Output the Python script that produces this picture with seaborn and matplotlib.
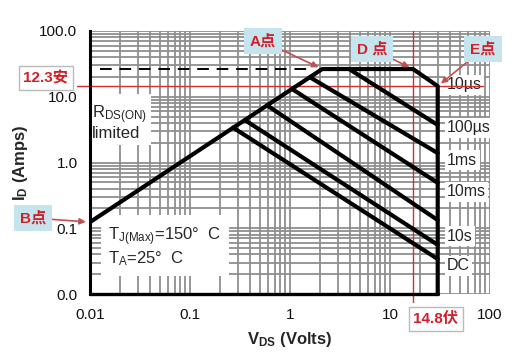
import matplotlib
matplotlib.use("Agg")
import matplotlib.pyplot as plt
import seaborn as sns
import pandas as pd
from matplotlib.ticker import FixedLocator, FixedFormatter, LogLocator, NullFormatter

# SOA boundary: RDS(on) line -> flat top (A..D) -> power limit (D..E) -> Vmax
env_v = [0.01, 2.1, 17, 30, 30]
env_i = [0.124, 26.4, 26.4, 14.5, 0.01]

# pulse-width lines (start on the boundary, end on Vmax)
pulse_names = ["100µs", "1ms", "10ms", "100ms", "10s", "DC"]
pulse_v0 = [3.9, 1.58, 1.05, 0.59, 0.355, 0.269]
pulse_i0 = [26.4, 19.8, 13.1, 7.4, 4.4, 3.4]
pulse_v1 = [30, 30, 30, 30, 30, 30]
pulse_i1 = [3.72, 1.39, 0.49, 0.133, 0.056, 0.034]

label_names = ["10µs", "100µs", "1ms", "10ms", "10s", "DC"]
label_i = [15.1, 3.35, 1.09, 0.356, 0.076, 0.0267]

x_ticks = [0.01, 0.1, 1, 10, 100]
x_labels = ["0.01", "0.1", "1", "10", "100"]
y_ticks = [0.01, 0.1, 1, 10, 100]
y_labels = ["0.0", "0.1", "1.0", "10.0", "100.0"]

d_volt = 17
e_amp = 14.5

rows = []
for k, (v, i) in enumerate(zip(env_v, env_i)):
    rows.append({"vds": v, "id": i, "curve": "10µs", "k": k})
for n, a, b, c, d in zip(pulse_names, pulse_v0, pulse_i0, pulse_v1, pulse_i1):
    rows.append({"vds": a, "id": b, "curve": n, "k": 0})
    rows.append({"vds": c, "id": d, "curve": n, "k": 1})
df = pd.DataFrame(rows)

sns.set_theme(style="white")
plt.rcParams["font.family"] = ["Liberation Sans", "Noto Sans CJK SC", "DejaVu Sans"]
plt.rcParams["mathtext.fontset"] = "custom"
plt.rcParams["mathtext.rm"] = "Liberation Sans"
plt.rcParams["mathtext.it"] = "Liberation Sans:italic"
plt.rcParams["mathtext.bf"] = "Liberation Sans:bold"

fig = plt.figure(figsize=(5.3, 3.55), dpi=100)
ax = fig.add_axes([90 / 530, 61 / 355, 400 / 530, 263 / 355])
ax.set_xscale("log")
ax.set_yscale("log")
ax.set_xlim(0.01, 100)
ax.set_ylim(0.01, 100)

# grid
ax.xaxis.set_minor_locator(LogLocator(base=10, subs=range(2, 10)))
ax.yaxis.set_minor_locator(LogLocator(base=10, subs=range(2, 10)))
ax.xaxis.set_minor_formatter(NullFormatter())
ax.yaxis.set_minor_formatter(NullFormatter())
ax.grid(True, which="both", color="#8f8f8f", lw=1.3)
ax.set_axisbelow(True)

sns.lineplot(data=df, x="vds", y="id", units="curve", estimator=None, sort=False,
             color="black", lw=3, ax=ax, zorder=5, legend=False)

ax.xaxis.set_major_locator(FixedLocator(x_ticks))
ax.xaxis.set_major_formatter(FixedFormatter(x_labels))
ax.yaxis.set_major_locator(FixedLocator(y_ticks))
ax.yaxis.set_major_formatter(FixedFormatter(y_labels))
ax.tick_params(which="both", length=0)
ax.tick_params(axis="x", pad=10, labelsize=11, labelcolor="#111111")
ax.tick_params(axis="y", pad=9, labelsize=11, labelcolor="#111111")

for s in ["top", "right", "bottom"]:
    ax.spines[s].set_visible(False)
ax.spines["left"].set_color("black")
ax.spines["left"].set_linewidth(2.2)
ax.spines["left"].set_zorder(6)
ax.plot([0.01, env_v[-1]], [0.01, 0.01], color="black", lw=2.4, clip_on=False, zorder=6)

ax.set_xlabel(r"$\mathbf{V_{DS}}$ (Volts)", fontsize=12, fontweight="bold")
ax.xaxis.set_label_coords(0.5, -0.135)
ax.set_ylabel(r"$\mathbf{I_D}$ (Amps)", fontsize=12, fontweight="bold")
ax.yaxis.set_label_coords(-0.15, 0.5)

# dashed line at the flat top
ax.plot([0.0126, 1.66], [env_i[1], env_i[1]], color="black", lw=1.4,
        dashes=(6, 4), zorder=4)

# red guide lines
ax.plot([0.0074, 85], [e_amp, e_amp], color="#d03030", lw=1.0, clip_on=False, zorder=4)
ax.plot([d_volt, d_volt], [0.0076, 100], color="#d03030", lw=1.0, clip_on=False, zorder=4)

white = dict(boxstyle="square,pad=0.25", fc="white", ec="none")
ax.text(0.0105, 10 ** 0.62, r"R$_{\mathrm{DS(ON)}}$" + "\nlimited", fontsize=12,
        va="center", ha="left", linespacing=1.0, bbox=white, zorder=3)
ax.text(0.0152, 0.052, r"T$_{\mathrm{J(Max)}}$=150°  C" + "\n" + r"T$_{\mathrm{A}}$=25°  C",
        fontsize=12, va="center", ha="left", linespacing=1.1,
        bbox=dict(boxstyle="square,pad=0.45", fc="white", ec="none"), zorder=3)

for name, yi in zip(label_names, label_i):
    ax.text(37.2, yi, name, fontsize=11.5, va="center", ha="left",
            bbox=dict(boxstyle="square,pad=0.15", fc="white", ec="none"), zorder=3)

blue = dict(boxstyle="square,pad=0.4", fc="#c6e4ee", ec="none")
arrow = dict(arrowstyle="-|>", color="#c0504d", lw=1.2, shrinkA=0, shrinkB=3,
             mutation_scale=9)
red = "#d0202a"
pts = [("A点", (env_v[1], env_i[1]), (263, 314)),
       ("D 点", (env_v[2], env_i[2]), (372, 306)),
       ("E点", (env_v[3], env_i[3]), (483, 306)),
       ("B点", (env_v[0], env_i[0]), (33, 137))]
for txt, xy, xyt in pts:
    ax.annotate(txt, xy=xy, xycoords="data", xytext=xyt, textcoords="figure pixels",
                ha="center", va="center", color=red, fontsize=11, fontweight="bold",
                bbox=blue, arrowprops=arrow, annotation_clip=False, zorder=7)

grey_box = dict(boxstyle="square,pad=0.3", fc="white", ec="#bbbbbb", lw=1)
fig.text(46 / 530, 277 / 355, "12.3安", ha="center", va="center", color=red,
         fontsize=11, fontweight="bold", bbox=grey_box, zorder=7)
fig.text(436 / 530, 36 / 355, "14.8伏", ha="center", va="center", color=red,
         fontsize=11, fontweight="bold", bbox=grey_box, zorder=7)

fig.savefig("out.png", dpi=100)
